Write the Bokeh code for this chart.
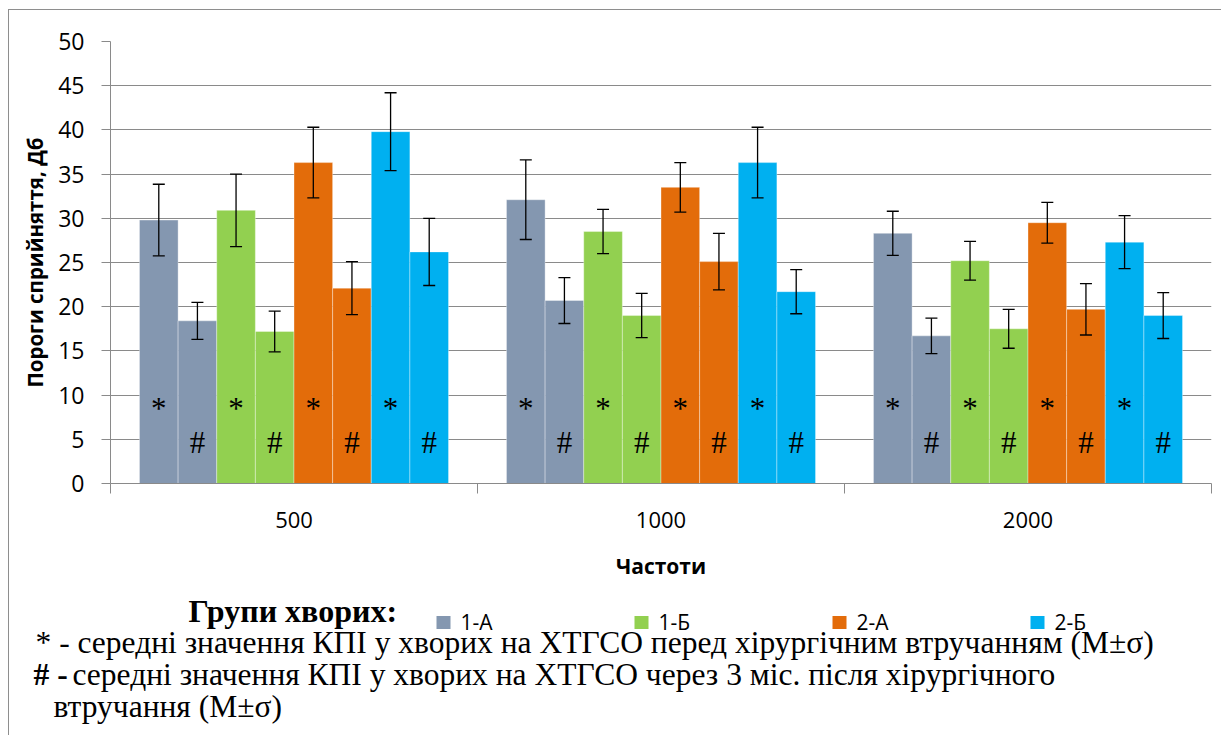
from bokeh.plotting import figure
from bokeh.layouts import column
from bokeh.models import (ColumnDataSource, Range1d, FixedTicker, Whisker, TeeHead)
from bokeh.core.properties import value
from bokeh.embed import file_html
from bokeh.resources import INLINE

# ---------------- data ----------------
freqs = ["500", "1000", "2000"]
groups = ["1-А", "1-Б", "2-А", "2-Б"]
colors = ["#8497B0", "#92D050", "#E36C0A", "#00B0F0"]

before_mean = {
    "1-А": [29.8, 32.1, 28.3],
    "1-Б": [30.9, 28.5, 25.2],
    "2-А": [36.3, 33.5, 29.5],
    "2-Б": [39.8, 36.3, 27.3],
}
before_sd = {
    "1-А": [4.05, 4.5, 2.5],
    "1-Б": [4.1, 2.5, 2.2],
    "2-А": [4.0, 2.8, 2.3],
    "2-Б": [4.4, 4.0, 3.0],
}
after_mean = {
    "1-А": [18.4, 20.7, 16.7],
    "1-Б": [17.2, 19.0, 17.5],
    "2-А": [22.1, 25.1, 19.7],
    "2-Б": [26.2, 21.7, 19.0],
}
after_sd = {
    "1-А": [2.1, 2.6, 2.0],
    "1-Б": [2.3, 2.5, 2.2],
    "2-А": [3.0, 3.2, 2.9],
    "2-Б": [3.8, 2.5, 2.6],
}
y_ticks = [0, 5, 10, 15, 20, 25, 30, 35, 40, 45, 50]

y_title = "Пороги сприйняття, Дб"
x_title = "Частоти"
legend_title = "Групи хворих:"
note1 = "* - середні значення КПІ у хворих на ХТГСО перед хірургічним втручанням (М±σ)"
note2_mark = "# -"
note2 = "середні значення КПІ у хворих на ХТГСО через 3 міс.  після хірургічного"
note3 = "втручання (М±σ)"

# ---------------- layout ----------------
W = 1213
FL, FT, FW, FH = 101, 31, 1100, 441
H1, H2 = 581, 144
NB = 8            # bars per category
BW = 1 / 9.5      # bar width (gap 150%)
GRID = "#8a8a8a"
STAR_Y, HASH_Y = 8.5, 4.6

p = figure(width=W, height=H1, frame_width=FW, frame_height=FH,
           min_border_left=FL, min_border_right=W - FL - FW, min_border_top=FT,
           min_border_bottom=H1 - FT - FH,
           x_range=Range1d(0, 3), y_range=Range1d(0, 50),
           output_backend="svg", toolbar_location=None)
p.styles = {"border-top": "1px solid #8e8e8e", "border-left": "1px solid #8e8e8e"}
p.background_fill_color = "white"
p.border_fill_color = "white"
p.outline_line_color = None
p.xgrid.visible = False
p.ygrid.grid_line_color = GRID
p.ygrid.grid_line_width = 1
p.ygrid.ticker = FixedTicker(ticks=y_ticks)

for gi, g in enumerate(groups):
    xs, tops, ups, los, marks, tys = [], [], [], [], [], []
    for ci in range(len(freqs)):
        pairs = [(before_mean[g][ci], before_sd[g][ci], "*", STAR_Y),
                 (after_mean[g][ci], after_sd[g][ci], "#", HASH_Y)]
        for k, (m, s, mk, ty) in enumerate(pairs):
            j = gi * 2 + k
            xs.append(ci + 0.5 + (j - (NB - 1) / 2) * BW)
            tops.append(m)
            ups.append(m + s)
            los.append(m - s)
            marks.append(mk)
            tys.append(ty)
    src = ColumnDataSource(dict(x=xs, top=tops, up=ups, lo=los, mark=marks, ty=tys))
    p.vbar(x="x", top="top", width=BW, source=src, fill_color=colors[gi],
           line_color="white", line_alpha=0.35, line_width=1)
    p.text(x="x", y="ty", text="mark", source=src, text_font=value("Liberation Serif"),
           text_font_size="31px", text_align="center", text_baseline="alphabetic",
           text_color="black")
    wh = Whisker(source=src, base="x", upper="up", lower="lo",
                 line_color="black", line_width=1.3, level="overlay",
                 upper_head=TeeHead(size=12, line_color="black", line_width=1.3),
                 lower_head=TeeHead(size=12, line_color="black", line_width=1.3))
    p.add_layout(wh)

# axes
p.yaxis.ticker = FixedTicker(ticks=y_ticks)
p.yaxis.axis_line_color = GRID
p.yaxis.major_tick_line_color = GRID
p.yaxis.major_tick_out = 9
p.yaxis.major_tick_in = 0
p.yaxis.minor_tick_line_color = None
p.yaxis.major_label_standoff = 17
p.yaxis.major_label_text_font = "Open Sans"
p.yaxis.major_label_text_font_size = "23px"
p.yaxis.major_label_text_color = "black"
p.yaxis.axis_label = y_title
p.yaxis.axis_label_text_font = "Open Sans"
p.yaxis.axis_label_text_font_style = "bold"
p.yaxis.axis_label_text_font_size = "20.5px"
p.yaxis.axis_label_text_color = "black"
p.yaxis.axis_label_standoff = 6

p.xaxis.ticker = FixedTicker(ticks=[0.5, 1.5, 2.5], minor_ticks=[0, 1, 2, 3])
p.xaxis.major_label_overrides = {0.5: freqs[0], 1.5: freqs[1], 2.5: freqs[2]}
p.xaxis.axis_line_color = GRID
p.xaxis.major_tick_line_color = None
p.xaxis.major_tick_out = 0
p.xaxis.major_tick_in = 0
p.xaxis.minor_tick_line_color = GRID
p.xaxis.minor_tick_out = 10
p.xaxis.minor_tick_in = 0
p.xaxis.major_label_standoff = 18
p.xaxis.major_label_text_font = "Open Sans"
p.xaxis.major_label_text_font_size = "22px"
p.xaxis.major_label_text_color = "black"
p.xaxis.axis_label = x_title
p.xaxis.axis_label_text_font = "Open Sans"
p.xaxis.axis_label_text_font_style = "bold"
p.xaxis.axis_label_text_font_size = "21px"
p.xaxis.axis_label_text_color = "black"
p.xaxis.axis_label_standoff = 21

# ---------------- legend + notes panel (pixel coordinates, y downward) ----------------
q = figure(width=W, height=H2, x_range=Range1d(0, W), y_range=Range1d(H2, 0),
           x_axis_type=None, y_axis_type=None, min_border=0,
           min_border_left=0, min_border_right=0, min_border_top=0, min_border_bottom=0,
           output_backend="svg", toolbar_location=None)
for fig in (p, q):
    try:
        fig.frame_align = False
    except Exception:
        pass
q.styles = {"border-left": "1px solid #8e8e8e"}
q.grid.visible = False
q.outline_line_color = None
q.background_fill_color = "white"
q.border_fill_color = "white"

LEG_X0, LEG_DX, LEG_Y = 427, 198, 31
sq_x = [LEG_X0 + i * LEG_DX + 7 for i in range(len(groups))]
lab_x = [LEG_X0 + i * LEG_DX + 24 for i in range(len(groups))]
q.rect(x=sq_x, y=[LEG_Y] * len(groups), width=14, height=13,
       fill_color=colors, line_color=None)
q.text(x=lab_x, y=[LEG_Y - 1] * len(groups), text=groups, text_font=value("Open Sans"),
       text_font_size="21px", text_baseline="middle", text_align="left",
       text_color="black")
q.text(x=[179], y=[19], text=[legend_title], text_font=value("Liberation Serif"),
       text_font_style="bold", text_font_size="32px", text_baseline="alphabetic",
       text_color="black")
q.text(x=[26, 44], y=[51, 115], text=[note1, note3], text_font=value("Liberation Serif"),
       text_font_size="31.5px", text_baseline="alphabetic", text_color="black")
q.text(x=[24], y=[83], text=[note2_mark], text_font=value("Liberation Serif"),
       text_font_style="bold", text_font_size="31.5px", text_baseline="alphabetic",
       text_color="black")
q.text(x=[63], y=[83], text=[note2], text_font=value("Liberation Serif"),
       text_font_size="31.5px", text_baseline="alphabetic", text_color="black")

layout = column(p, q, margin=(9, 0, 0, 8))
open("out.html", "w").write(file_html(layout, INLINE))
